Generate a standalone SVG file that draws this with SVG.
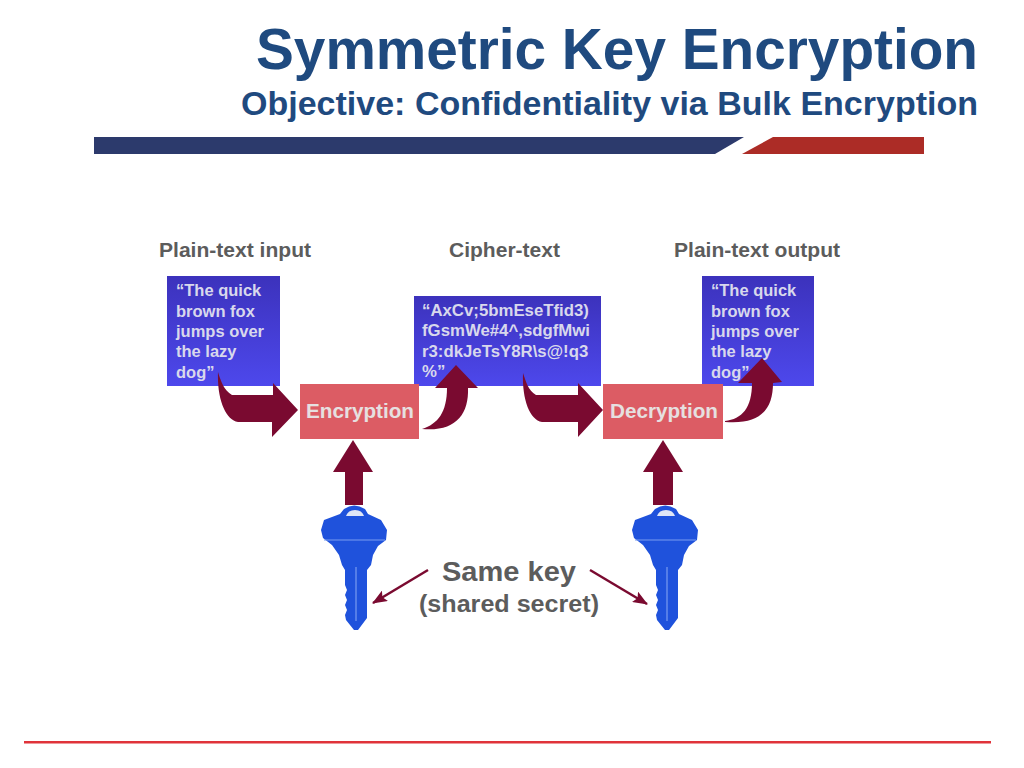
<svg xmlns="http://www.w3.org/2000/svg" width="1024" height="768" viewBox="0 0 1024 768">
<defs>
<linearGradient id="blue" x1="0" y1="0" x2="0" y2="1"><stop offset="0" stop-color="#3c32bc"/><stop offset="1" stop-color="#4d48ec"/></linearGradient>
<marker id="ah" markerWidth="16" markerHeight="12" refX="14" refY="6" orient="auto" markerUnits="userSpaceOnUse"><path d="M0 0L15 6L0 12L3 6Z" fill="#7a0a30"/></marker>
<g id="key">
<path d="M-10 4Q0 -3 11 4L14 9L27 15L33 25L32 35L24 41L19 50L17 60L13 65V113L4 125L0 125L-8 115L-9 110L-7 105L-9 100L-7 95L-9 90L-7 85L-9 80V65L-12 60L-15 50L-22 40L-31 33L-33 25L-30 15L-14 9Z" fill="#1f52dc"/>
<path d="M-8 11Q-6 5 1 5Q8 5 10 11Z" fill="#dfe6f6"/>
<path d="M-30 35H31" stroke="#7a9cf0" stroke-width="1"/>
<path d="M2 62V116" stroke="#7a9cf0" stroke-width="1.2"/>
</g>
</defs>
<style>
.title{font-family:"Liberation Sans",Arial,sans-serif;font-weight:700;fill:#1f4a7f;text-anchor:end}
.lab{font-family:"Liberation Sans",Arial,sans-serif;font-weight:700;font-size:21px;fill:#5c5c5c}
.box{font-family:"Liberation Sans",Arial,sans-serif;font-weight:700;font-size:16.5px;fill:#d8d8ec}
.cipher{font-size:16.8px}
.op{font-family:"Liberation Sans",Arial,sans-serif;font-weight:700;font-size:20px;fill:#e6e0e0;text-anchor:middle}
.arrow{fill:#7a0a30}
</style>
<rect width="1024" height="768" fill="#fff"/>
<g id="header">
<text class="title" x="978" y="69" font-size="58" textLength="722" lengthAdjust="spacingAndGlyphs">Symmetric Key Encryption</text>
<text class="title" x="978" y="115" font-size="33" textLength="737" lengthAdjust="spacingAndGlyphs">Objective: Confidentiality via Bulk Encryption</text>
<path d="M94 137H744L715 154H94Z" fill="#2c3a6c"/>
<path d="M773 137H924V154H742Z" fill="#ac2c26"/>
</g>
<g id="footer"><rect x="24" y="741" width="967" height="2.5" fill="#e0333a"/></g>

<g id="input">
<text class="lab" x="159" y="257" textLength="152" lengthAdjust="spacingAndGlyphs">Plain-text input</text>
<rect x="167" y="276" width="113" height="110" fill="url(#blue)"/>
<text class="box"><tspan x="176" y="296">“The quick</tspan><tspan x="176" y="317">brown fox</tspan><tspan x="176" y="337">jumps over</tspan><tspan x="176" y="357">the lazy</tspan><tspan x="176" y="378">dog”</tspan></text>
</g>
<g id="cipher">
<text class="lab" x="449" y="257" textLength="111" lengthAdjust="spacingAndGlyphs">Cipher-text</text>
<rect x="414" y="296" width="187" height="90" fill="url(#blue)"/>
<text class="box cipher"><tspan x="422" y="316">“AxCv;5bmEseTfid3)</tspan><tspan x="422" y="336">fGsmWe#4^,sdgfMwi</tspan><tspan x="422" y="357">r3:dkJeTsY8R\s@!q3</tspan><tspan x="422" y="377">%”</tspan></text>
</g>
<g id="output">
<text class="lab" x="674" y="257" textLength="166" lengthAdjust="spacingAndGlyphs">Plain-text output</text>
<rect x="702" y="276" width="112" height="110" fill="url(#blue)"/>
<text class="box"><tspan x="711" y="296">“The quick</tspan><tspan x="711" y="317">brown fox</tspan><tspan x="711" y="337">jumps over</tspan><tspan x="711" y="357">the lazy</tspan><tspan x="711" y="378">dog”</tspan></text>
</g>
<g id="encryption">
<rect x="300" y="384" width="119" height="55" fill="#dc5c64"/>
<text class="op" x="360" y="418" textLength="108" lengthAdjust="spacingAndGlyphs">Encryption</text>
</g>
<g id="decryption">
<rect x="603" y="384" width="120" height="55" fill="#dc5c64"/>
<text class="op" x="664" y="418" textLength="108" lengthAdjust="spacingAndGlyphs">Decryption</text>
</g>
<g id="key-left"><use href="#key" x="354" y="505"/></g>
<g id="key-right"><use href="#key" x="665" y="505"/></g>
<g id="caption">
<text x="509" y="581" text-anchor="middle" font-family="Liberation Sans,Arial,sans-serif" font-weight="700" font-size="28" fill="#5c5c5c" textLength="134" lengthAdjust="spacingAndGlyphs">Same key</text>
<text x="509" y="612" text-anchor="middle" font-family="Liberation Sans,Arial,sans-serif" font-weight="700" font-size="23" fill="#5c5c5c" textLength="180" lengthAdjust="spacingAndGlyphs">(shared secret)</text>
</g>
<g id="connectors">
<path class="arrow" d="M218 372C221 382 224 390 232 395H273V383L298 410L272 437V422H238C226 420 217 400 218 372Z"/>
<path class="arrow" d="M422 429C438 424 447 412 447 388H435L456 365L478 388H468C469 415 455 432 422 429Z"/>
<path class="arrow" d="M523 373C526 382 528 390 536 395H578V383L603 410L578 437V422H542C530 420 522 400 523 373Z"/>
<path class="arrow" d="M725 421C742 419 752 408 752 383H738L762 358L782 382L773 383C773 408 762 425 725 422Z"/>
<path class="arrow" d="M345 505V472H333L353 440L373 472H363V505Z"/>
<path class="arrow" d="M653 505V472H643L663 440L683 472H673V505Z"/>
<path d="M428 570L373 603" fill="none" stroke="#7a0a30" stroke-width="2.5" marker-end="url(#ah)"/>
<path d="M590 570L647 604" fill="none" stroke="#7a0a30" stroke-width="2.5" marker-end="url(#ah)"/>
</g>
</svg>
